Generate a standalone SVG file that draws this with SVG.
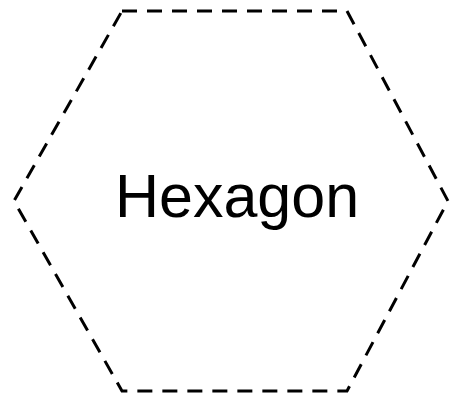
<svg xmlns="http://www.w3.org/2000/svg" width="450" height="395" viewBox="0 0 450 395">
<style>
.shape{fill:#fff;stroke:#000;stroke-width:3;stroke-dasharray:15 10}
.label{font-family:"Liberation Sans",Arial,sans-serif;font-size:61px;fill:#000;text-anchor:middle}
</style>
<rect width="450" height="395" fill="#fff"/>
<g id="hexagon">
<polygon class="shape" points="122,11 347,11 448,201 347,391 122,391 14,201"/>
<text class="label" x="237" y="217">Hexagon</text>
</g>
<g id="connectors"/>
</svg>
